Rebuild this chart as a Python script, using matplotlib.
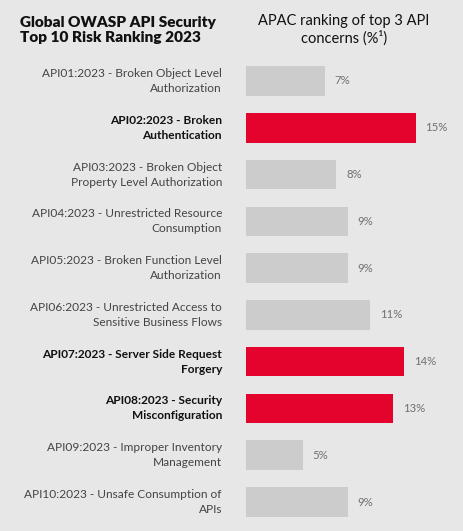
import matplotlib
matplotlib.use("Agg")
import matplotlib.pyplot as plt
import matplotlib.transforms as mtransforms

labels = [
    "API01:2023 - Broken Object Level\nAuthorization",
    "API02:2023 - Broken\nAuthentication",
    "API03:2023 - Broken Object\nProperty Level Authorization",
    "API04:2023 - Unrestricted Resource\nConsumption",
    "API05:2023 - Broken Function Level\nAuthorization",
    "API06:2023 - Unrestricted Access to\nSensitive Business Flows",
    "API07:2023 - Server Side Request\nForgery",
    "API08:2023 - Security\nMisconfiguration",
    "API09:2023 - Improper Inventory\nManagement",
    "API10:2023 - Unsafe Consumption of\nAPIs",
]
values = [7, 15, 8, 9, 9, 11, 14, 13, 5, 9]
highlight = [False, True, False, False, False, False, True, True, False, False]

BG = "#e7e7e7"
GREY = "#cccccc"
RED = "#e4032c"
FONT = ["Lato", "DejaVu Sans"]

W, H = 463, 531
fig = plt.figure(figsize=(W / 100, H / 100), dpi=100, facecolor=BG)

left = 246 / W
width = 19 * 11.3 / W
top = 1 - 57.6 / H
bottom = 1 - 525.4 / H
ax = fig.add_axes([left, bottom, width, top - bottom])
ax.set_facecolor(BG)
ax.set_xlim(0, 19)
ax.set_ylim(len(values) - 0.5, -0.5)

ypos = list(range(len(values)))
colors = [RED if h else GREY for h in highlight]
ax.barh(ypos, values, height=0.63, color=colors, edgecolor="none")

for y, v in zip(ypos, values):
    ax.annotate(f"{v}%", (v, y), xytext=(7, 0), textcoords="offset points",
                ha="left", va="center", fontsize=8.2, color="#707070", family=FONT)

trans = mtransforms.blended_transform_factory(fig.transFigure, ax.transData)
for y, lab, h in zip(ypos, labels, highlight):
    ax.text(222 / W, y, lab, transform=trans, ha="right", va="center",
            fontsize=8.6, linespacing=1.45, family=FONT,
            fontweight="bold" if h else "normal",
            color="#111111" if h else "#444444")

ax.axis("off")

fig.text(20 / W, 1 - 30 / H, "Global OWASP API Security\nTop 10 Risk Ranking 2023",
         ha="left", va="center", fontsize=11.1, fontweight="heavy", family=FONT,
         color="#111111", linespacing=1.15)
fig.text(344 / W, 1 - 30 / H, "APAC ranking of top 3 API\nconcerns (%¹)",
         ha="center", va="center", fontsize=10.5, family=FONT,
         color="#111111", linespacing=1.15)

fig.savefig("out.png", dpi=100, facecolor=BG)
